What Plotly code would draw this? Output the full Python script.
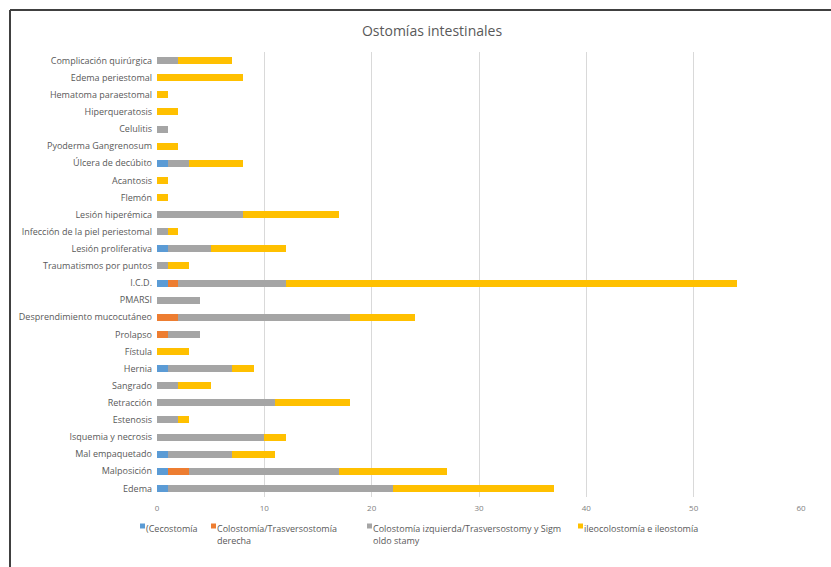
import plotly.graph_objects as go

categories = [
    "Complicación quirúrgica", "Edema periestomal", "Hematoma paraestomal",
    "Hiperqueratosis", "Celulitis", "Pyoderma Gangrenosum", "Úlcera de decúbito",
    "Acantosis", "Flemón", "Lesión hiperémica", "Infección de la piel periestomal",
    "Lesión proliferativa", "Traumatismos por puntos", "I.C.D.", "PMARSI",
    "Desprendimiento mucocutáneo", "Prolapso", "Fístula", "Hernia", "Sangrado",
    "Retracción", "Estenosis", "Isquemia y necrosis", "Mal empaquetado",
    "Malposición", "Edema",
]

cecostomia = [0, 0, 0, 0, 0, 0, 1, 0, 0, 0, 0, 1, 0, 1, 0, 0, 0, 0, 1, 0, 0, 0, 0, 1, 1, 1]
colost_derecha = [0, 0, 0, 0, 0, 0, 0, 0, 0, 0, 0, 0, 0, 1, 0, 2, 1, 0, 0, 0, 0, 0, 0, 0, 2, 0]
colost_izquierda = [2, 0, 0, 0, 1, 0, 2, 0, 0, 8, 1, 4, 1, 10, 4, 16, 3, 0, 6, 2, 11, 2, 10, 6, 14, 21]
ileostomia = [5, 8, 1, 2, 0, 2, 5, 1, 1, 9, 1, 7, 2, 42, 0, 6, 0, 3, 2, 3, 7, 1, 2, 4, 10, 15]

series_names = [
    "(Cecostomía",
    "Colostomía/Trasversostomía<br>derecha",
    "Colostomía izquierda/Trasversostomy y Sigm<br>oldo stamy",
    "ileocolostomía e ileostomía",
]
series_values = [cecostomia, colost_derecha, colost_izquierda, ileostomia]
series_colors = ["#5B9BD5", "#ED7D31", "#A5A5A5", "#FFC000"]

x_ticks = [0, 10, 20, 30, 40, 50, 60]

fig = go.Figure()
for name, vals, col in zip(series_names, series_values, series_colors):
    fig.add_trace(go.Bar(
        y=categories, x=vals, name=name.replace("<br>", ""), orientation="h",
        marker=dict(color=col, line=dict(width=0)),
        hovertemplate="%{y}: %{x}<extra></extra>", showlegend=False,
    ))

L, R, T, B = 157, 30, 52, 70
W, H = 831, 567
pw, ph = W - L - R, H - T - B
bx = (10 - L) / pw
by = 1 + (T - 10) / ph


def px_x(px):
    return (px - L) / pw


def px_y(py):
    return 1 - (py - T) / ph


# manual legend (squares + text)
legend_sq_x = [140, 211, 367, 578]
shapes = [
    dict(type="line", xref="paper", yref="paper", x0=bx, x1=bx, y0=by, y1=-0.3,
         line=dict(color="#404040", width=2)),
    dict(type="line", xref="paper", yref="paper", x0=bx, x1=1.2, y0=by, y1=by,
         line=dict(color="#404040", width=2)),
]
annotations = []
for sx, name, col in zip(legend_sq_x, series_names, series_colors):
    shapes.append(dict(type="rect", xref="paper", yref="paper",
                       x0=px_x(sx), x1=px_x(sx + 5), y0=px_y(523.5), y1=px_y(528.5),
                       fillcolor=col, line=dict(width=0)))
    annotations.append(dict(text=name, xref="paper", yref="paper",
                            x=px_x(sx + 4), y=px_y(519.5), xanchor="left", yanchor="top",
                            align="left", showarrow=False,
                            font=dict(family="Open Sans", size=9, color="#595959")))

fig.update_layout(
    width=W, height=H,
    barmode="stack", bargap=0.59,
    paper_bgcolor="white", plot_bgcolor="white",
    margin=dict(l=L, r=R, t=T, b=B),
    font=dict(family="Open Sans", color="#595959", size=9),
    title=dict(text="Ostomías intestinales", x=432 / W, xanchor="center",
               y=1 - 31 / H, yanchor="middle",
               font=dict(family="Open Sans", size=14, color="#595959")),
    xaxis=dict(range=[0, 60], tickvals=x_ticks, showgrid=True, gridcolor="#D9D9D9",
               gridwidth=1, zeroline=False, showline=False, ticks="",
               ticklabelstandoff=5,
               tickfont=dict(size=8, color="#7F7F7F"), fixedrange=True),
    yaxis=dict(categoryorder="array", categoryarray=categories, autorange="reversed",
               showgrid=False, zeroline=False, showline=False, ticks="",
               ticklabelstandoff=4,
               tickfont=dict(size=9, color="#595959")),
    showlegend=False,
    shapes=shapes,
    annotations=annotations,
)

fig.write_html("out.html")
